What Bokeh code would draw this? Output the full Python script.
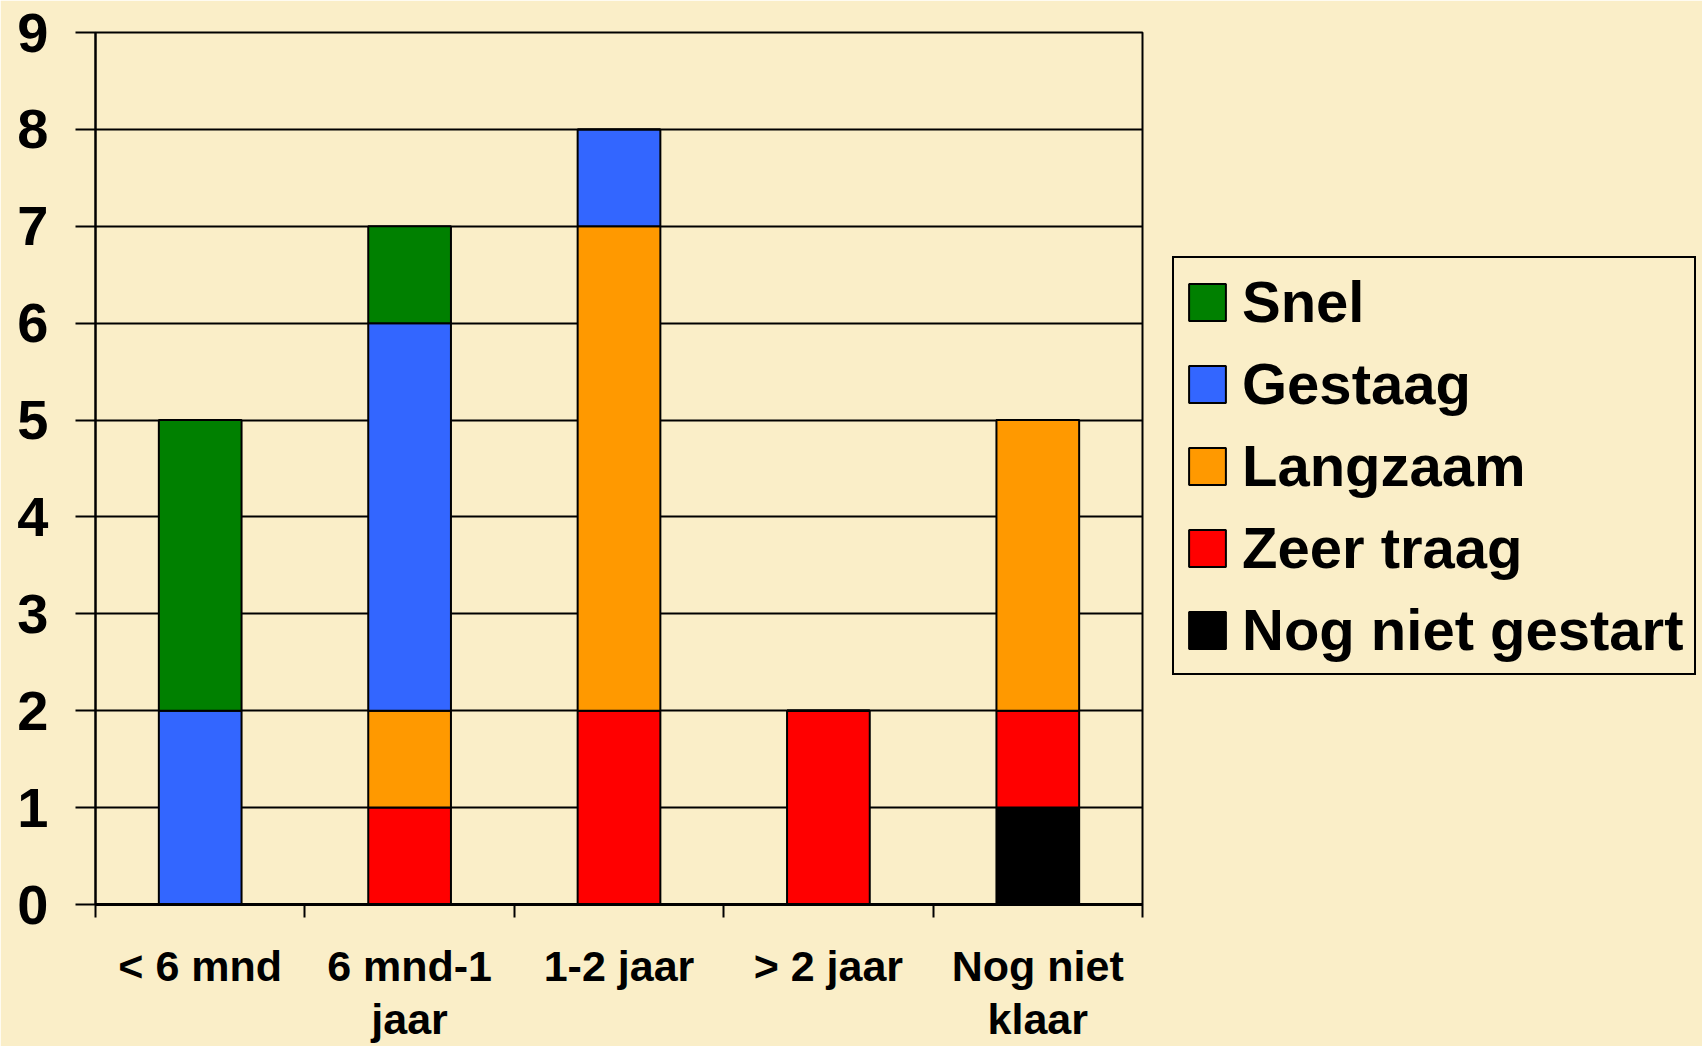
from bokeh.plotting import figure
from bokeh.models import Range1d, FixedTicker, Legend, LegendItem, ColumnDataSource
from bokeh.embed import file_html
from bokeh.resources import INLINE

# ---- data ----
categories = ["< 6 mnd", "6 mnd-1 jaar", "1-2 jaar", "> 2 jaar", "Nog niet klaar"]
tick_labels = ["< 6 mnd", "6 mnd-1\njaar", "1-2 jaar", "> 2 jaar", "Nog niet\nklaar"]
nog_niet_gestart = [0, 0, 0, 0, 1]
zeer_traag = [0, 1, 2, 2, 1]
langzaam = [0, 1, 5, 0, 3]
gestaag = [2, 4, 1, 0, 0]
snel = [3, 1, 0, 0, 0]
series_names = ["Nog niet gestart", "Zeer traag", "Langzaam", "Gestaag", "Snel"]
series_colors = ["#000000", "#FF0000", "#FF9900", "#3366FF", "#008000"]
y_ticks = [0, 1, 2, 3, 4, 5, 6, 7, 8, 9]

BG = "#FAEEC8"
FONT = "Liberation Sans"

centers = [i + 0.5 for i in range(len(categories))]
bounds = [i for i in range(len(categories) + 1)]

source = ColumnDataSource(dict(
    x=centers,
    **{"Nog niet gestart": nog_niet_gestart, "Zeer traag": zeer_traag,
       "Langzaam": langzaam, "Gestaag": gestaag, "Snel": snel}))

p = figure(frame_width=1047, frame_height=872,
           x_range=Range1d(0, len(categories)), y_range=Range1d(0, 9),
           output_backend="svg", toolbar_location=None,
           min_border_left=95, min_border_right=544,
           min_border_top=32, min_border_bottom=132,
           background_fill_color=BG, border_fill_color=BG)

p.outline_line_color = "black"
p.outline_line_width = 2

renderers = p.vbar_stack(series_names, x="x", width=0.395, source=source,
                         color=series_colors, line_color="black", line_width=2)

# y axis
p.yaxis.ticker = FixedTicker(ticks=y_ticks)
p.yaxis.axis_line_width = 2
p.yaxis.axis_line_color = "black"
p.yaxis.major_tick_out = 20
p.yaxis.major_tick_in = 0
p.yaxis.major_tick_line_width = 2
p.yaxis.major_tick_line_color = "black"
p.yaxis.minor_tick_out = 0
p.yaxis.minor_tick_in = 0
p.yaxis.major_label_text_font = FONT
p.yaxis.major_label_text_font_style = "bold"
p.yaxis.major_label_text_font_size = "56px"
p.yaxis.major_label_text_color = "black"
p.yaxis.major_label_standoff = 27

# x axis
p.xaxis.ticker = FixedTicker(ticks=centers, minor_ticks=bounds)
p.xaxis.major_label_overrides = {c: t for c, t in zip(centers, tick_labels)}
p.xaxis.axis_line_width = 3
p.xaxis.axis_line_color = "black"
p.xaxis.major_tick_out = 0
p.xaxis.major_tick_in = 0
p.xaxis.minor_tick_out = 13
p.xaxis.minor_tick_in = 0
p.xaxis.minor_tick_line_width = 2
p.xaxis.minor_tick_line_color = "black"
p.xaxis.major_label_text_font = FONT
p.xaxis.major_label_text_font_style = "bold"
p.xaxis.major_label_text_font_size = "43px"
p.xaxis.major_label_text_color = "black"
p.xaxis.major_label_text_line_height = 1.12
p.xaxis.major_label_standoff = 24

# grid
p.xgrid.grid_line_color = None
p.ygrid.ticker = FixedTicker(ticks=y_ticks)
p.ygrid.grid_line_color = "black"
p.ygrid.grid_line_width = 2

# legend (top of stack first)
items = [LegendItem(label=n, renderers=[r]) for n, r in zip(series_names, renderers)][::-1]
legend = Legend(items=items, location=(30, 229))
legend.label_text_font = FONT
legend.label_text_font_style = "bold"
legend.label_text_font_size = "58px"
legend.label_text_color = "black"
legend.glyph_width = 46
legend.glyph_height = 46
legend.label_standoff = 12
legend.padding = 10
legend.spacing = 15
legend.margin = 0
legend.border_line_color = "black"
legend.border_line_alpha = 1.0
legend.border_line_width = 2
legend.background_fill_color = BG
legend.background_fill_alpha = 1.0
p.add_layout(legend, "right")

open("out.html", "w").write(file_html(p, INLINE))
